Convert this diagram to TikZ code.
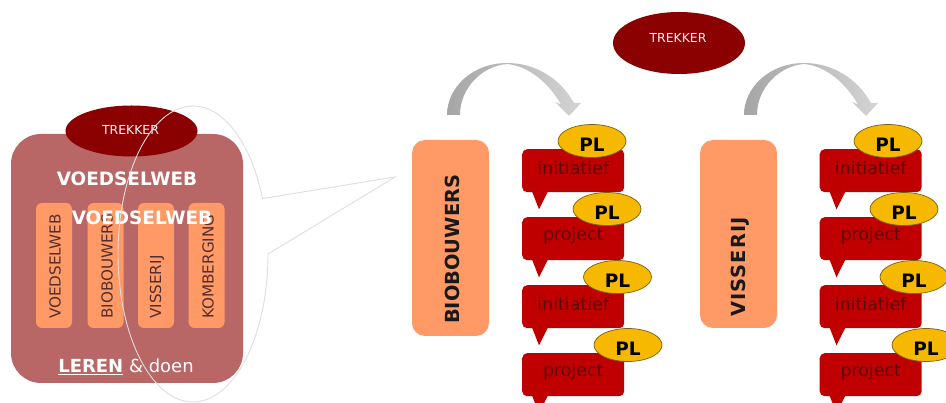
\documentclass[tikz,border=0pt]{standalone}
\usepackage{fontspec}
\usetikzlibrary{shapes.geometric,calc}
\setmainfont{DejaVu Sans}
\definecolor{darkred}{HTML}{8B0000}
\definecolor{rose}{HTML}{B96666}
\definecolor{peach}{HTML}{FF9966}
\definecolor{bubblered}{HTML}{C00000}
\definecolor{bubbletext}{HTML}{5E0808}
\definecolor{goldpl}{HTML}{F7B800}
\definecolor{goldline}{HTML}{7A6010}
\tikzset{
  trekkerell/.style={ellipse,fill=darkred,inner sep=0pt},
  trekkertext/.style={inner sep=0pt,text=white!92!rose,font=\fontsize{12.4}{14}\selectfont},
  bar/.style={rectangle,rounded corners=6pt,fill=peach,inner sep=0pt,minimum width=36pt,minimum height=125pt},
  bigbox/.style={rectangle,rounded corners=13pt,fill=peach,inner sep=0pt,minimum width=77pt},
  bartext/.style={rotate=90,anchor=west,inner sep=0pt,text=black!55!rose,font=\fontsize{15.2}{17}\selectfont},
  boxtext/.style={rotate=90,anchor=west,inner sep=0pt,text=black!90,font=\bfseries\fontsize{19.4}{22}\selectfont},
  whitetext/.style={inner sep=0pt,text=white,font=\bfseries\fontsize{18.4}{21}\selectfont},
  bubblebody/.style={rectangle,rounded corners=5pt,fill=bubblered,inner sep=0pt,minimum width=102pt,minimum height=43pt},
  bubbletail/.style={fill=bubblered,draw=none},
  bubblelabel/.style={inner sep=0pt,text=bubbletext,font=\fontsize{17.4}{20}\selectfont},
  plell/.style={ellipse,fill=goldpl,draw=goldline,line width=0.7pt,inner sep=0pt,minimum width=68pt,minimum height=33pt},
  pltext/.style={inner sep=0pt,text=black,font=\bfseries\fontsize{18.5}{21}\selectfont},
  swoosh/.style={left color=black!35,middle color=black!11,right color=black!17,shading angle=90,draw=none},
  outline/.style={draw=black!13,line width=0.9pt}
}
\newcommand{\swooshat}[1]{%
  \path[swoosh,shift={(#1,0)}] (447,115)
    .. controls (447,88) and (472,63) .. (507,63)
    .. controls (535,63) and (560,78) .. (574,103)
    -- (581,103) -- (569,116) -- (555,102) -- (561,104.5)
    .. controls (550,85) and (530,66) .. (507,64)
    .. controls (482,66) and (460,88) .. (460,115) -- cycle;
}
% #1 name, #2 left x, #3 top y, #4 label, #5 PL centre x
\newcommand{\bubble}[5]{%
  \node[bubblebody,anchor=north west] (#1) at (#2,#3) {};
  \path[bubbletail] ($(#1.south west)+(10,-1)$) -- ($(#1.south west)+(17,17)$) -- ($(#1.south west)+(26,-1)$) -- cycle;
  \node[bubblelabel] (#1t) at ($(#1.center)+(0,-2.5)$) {#4};
  \node[plell] (#1p) at (#5,#3-8) {};
  \node[pltext] (#1l) at (#5,#3-4) {PL};
}
\begin{document}
\begin{tikzpicture}[x=1pt,y=-1pt]
\clip (0,0) rectangle (946,403);
\fill[white] (0,0) rectangle (946,403);

% left panel
\node[rectangle,rounded corners=30pt,fill=rose,inner sep=0pt,minimum width=232pt,minimum height=249pt] (panel) at (127,258.5) {};
\node[trekkerell,minimum width=132pt,minimum height=51pt] (trekkerA) at (131.5,131) {};
\node[trekkertext] (trekkerAt) at (130.5,130) {TREKKER};
\node[whitetext] (vw1) at (127,179) {VOEDSELWEB};
\node[bar] (b1) at (54,265.5) {};
\node[bar] (b2) at (105.5,265.5) {};
\node[bar] (b3) at (156,265.5) {};
\node[bar] (b4) at (206.5,265.5) {};
\node[bartext] (b1t) at (55,319) {VOEDSELWEB};
\node[bartext] (b2t) at (107,319) {BIOBOUWERS};
\node[bartext] (b3t) at (157,319) {VISSERIJ};
\node[bartext] (b4t) at (208,319) {KOMBERGING};
\node[whitetext] (vw2) at (142,218) {VOEDSELWEB};
\node[inner sep=0pt,text=white,font=\fontsize{18}{21}\selectfont] (leren) at (126,367) {\underline{\textbf{LEREN}} \& doen};

% callout outline
\draw[outline] plot[domain=0:338,samples=120] ({193+75*cos(\x)},{254+148*sin(\x)}) -- (395,177) -- cycle;

% right: top ellipse
\node[trekkerell,minimum width=132pt,minimum height=62pt] (trekkerB) at (679,43) {};
\node[trekkertext] (trekkerBt) at (678,38) {TREKKER};

% boxes
\node[bigbox,minimum height=196pt] (bio) at (450.5,238) {};
\node[boxtext] (biot) at (452,324) {BIOBOUWERS};
\node[bigbox,minimum height=188pt] (vis) at (738.5,234) {};
\node[boxtext] (vist) at (740,317) {\addfontfeature{LetterSpace=5.8}VISSERIJ};

% arrows
\swooshat{0}
\swooshat{297}

% bubbles
\bubble{a1}{522}{149}{initiatief}{592}
\bubble{a2}{522}{217}{project}{607}
\bubble{a3}{522}{285}{initiatief}{617.5}
\bubble{a4}{522}{353}{project}{628}
\bubble{c1}{819.5}{149}{initiatief}{888}
\bubble{c2}{819.5}{217}{project}{904}
\bubble{c3}{819.5}{285}{initiatief}{914}
\bubble{c4}{819.5}{353}{project}{926}
\end{tikzpicture}
\end{document}
